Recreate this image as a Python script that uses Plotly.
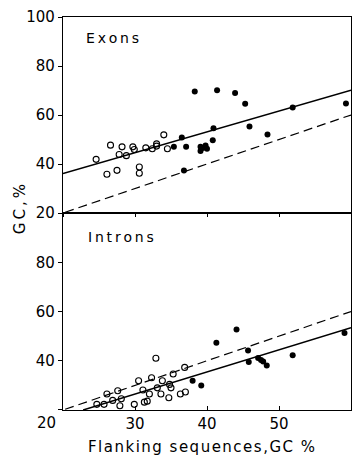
import plotly.graph_objects as go

# ---- data ----
exon_open_x = [24.6, 26.1, 26.6, 27.5, 27.8, 28.2, 28.8, 29.7, 29.9, 30.6, 30.6, 31.5, 32.4, 33.0, 33.0, 34.0, 34.5]
exon_open_y = [41.9, 35.8, 47.7, 37.4, 43.9, 47.0, 43.4, 47.0, 45.9, 38.8, 36.2, 46.6, 46.2, 48.2, 47.3, 51.9, 46.2]

exon_fill_x = [35.4, 36.5, 36.8, 37.1, 38.3, 39.1, 39.1, 39.4, 39.8, 40.0, 40.8, 40.9, 41.4, 43.9, 45.3, 45.9, 48.4, 51.9, 59.3]
exon_fill_y = [47.0, 50.8, 37.3, 47.0, 69.6, 47.0, 45.3, 46.5, 47.6, 46.2, 49.7, 54.6, 70.1, 69.0, 64.6, 55.3, 52.0, 63.1, 64.7]

intron_open_x = [24.7, 25.7, 26.1, 26.9, 27.6, 27.9, 28.1, 29.9, 30.5, 31.1, 31.3, 31.7, 32.0, 32.3, 32.9,
                 33.1, 33.6, 33.8, 34.7, 34.8, 35.0, 35.3, 36.3, 36.9, 37.0]
intron_open_y = [22.3, 22.3, 26.5, 23.9, 27.8, 21.7, 24.6, 22.3, 31.9, 28.1, 23.2, 23.6, 26.5, 33.1, 41.0,
                 29.0, 26.5, 31.9, 25.0, 30.4, 29.0, 34.6, 26.5, 37.3, 27.3]

intron_fill_x = [38.0, 39.2, 41.3, 44.1, 45.7, 45.8, 47.1, 47.5, 47.8, 48.3, 51.9, 59.1]
intron_fill_y = [31.9, 30.0, 47.3, 52.7, 44.2, 39.5, 41.1, 40.3, 39.7, 38.1, 42.2, 51.3]

line_x = [20, 60]
exon_fit_y = [36.1, 70.1]
intron_fit_x = [22.8, 60]
intron_fit_y = [20.0, 53.4]
diag_x = [20.3, 60]
diag_y = [20.3, 60]

x_ticks = [20, 30, 40, 50, 60]
y_ticks = [20, 40, 60, 80, 100]

FONT = "DejaVu Sans"
THIN = "\u2009"
HAIR = "\u200a"

def spaced(s, sep):
    return sep.join(list(s))

fig = go.Figure()

def add_panel(xa, ya, ox, oy, fx, fy, fitx, fity):
    fig.add_trace(go.Scatter(x=diag_x, y=diag_y, mode="lines",
                             line=dict(color="black", width=1.2, dash="9px,5px"),
                             xaxis=xa, yaxis=ya, hoverinfo="skip"))
    fig.add_trace(go.Scatter(x=fitx, y=fity, mode="lines",
                             line=dict(color="black", width=1.5),
                             xaxis=xa, yaxis=ya, hoverinfo="skip"))
    fig.add_trace(go.Scatter(x=ox, y=oy, mode="markers",
                             marker=dict(symbol="circle-open", size=6, color="black",
                                         line=dict(width=1.1, color="black")),
                             xaxis=xa, yaxis=ya))
    fig.add_trace(go.Scatter(x=fx, y=fy, mode="markers",
                             marker=dict(symbol="circle", size=6, color="black"),
                             xaxis=xa, yaxis=ya))

add_panel("x", "y", exon_open_x, exon_open_y, exon_fill_x, exon_fill_y, line_x, exon_fit_y)
add_panel("x2", "y2", intron_open_x, intron_open_y, intron_fill_x, intron_fill_y, intron_fit_x, intron_fit_y)

split = 199 / 397
axis_common = dict(showgrid=False, zeroline=False, showline=True, linecolor="black",
                   linewidth=1.3, mirror=True, tickcolor="black",
                   tickfont=dict(family=FONT, size=15, color="black"))

fig.update_layout(
    width=360, height=458,
    margin=dict(l=63, r=8, t=13, b=48),
    paper_bgcolor="white", plot_bgcolor="white",
    showlegend=False,
    xaxis=dict(domain=[0, 1], anchor="y", range=[20, 60], tickvals=x_ticks,
               showticklabels=False, ticks="outside", ticklen=3, **axis_common),
    yaxis=dict(domain=[split, 1], anchor="x", range=[20, 100], tickvals=y_ticks,
               ticktext=[str(v) for v in y_ticks], ticks="outside", ticklen=4, **axis_common),
    xaxis2=dict(domain=[0, 1], anchor="y2", range=[20, 60], tickvals=x_ticks,
                ticktext=[""] + [str(v) for v in x_ticks[1:]], ticks="inside", ticklen=4,
                **axis_common),
    yaxis2=dict(domain=[0, split], anchor="x2", range=[20, 100], tickvals=y_ticks,
                ticktext=["", "40", "60", "80", ""], ticks="outside", ticklen=4, **axis_common),
)

ann_font = dict(family=FONT, size=15, color="black")
fig.add_annotation(text="20", xref="paper", yref="paper", x=(46 - 63) / 289, y=(410 - 423) / 397,
                   showarrow=False, font=ann_font, xanchor="center", yanchor="middle")
fig.add_annotation(text=spaced("Exons", THIN), xref="paper", yref="paper", x=(84 - 63) / 289,
                   y=(410 - 34) / 397, showarrow=False, font=dict(family=FONT, size=14, color="black"),
                   xanchor="left", yanchor="middle")
fig.add_annotation(text=spaced("Introns", THIN), xref="paper", yref="paper", x=(86 - 63) / 289,
                   y=(410 - 235) / 397, showarrow=False, font=dict(family=FONT, size=14, color="black"),
                   xanchor="left", yanchor="middle")
fig.add_annotation(text=spaced("GC,%", THIN), xref="paper", yref="paper", x=(20 - 63) / 289,
                   y=(410 - 207) / 397, showarrow=False, font=ann_font, textangle=-90,
                   xanchor="center", yanchor="middle")
fig.add_annotation(text=spaced("Flanking sequences,GC %", HAIR), xref="paper", yref="paper",
                   x=(202 - 63) / 289, y=(410 - 447) / 397,
                   showarrow=False, font=dict(family=FONT, size=15, color="black"),
                   xanchor="center", yanchor="middle")

fig.write_html("out.html")
